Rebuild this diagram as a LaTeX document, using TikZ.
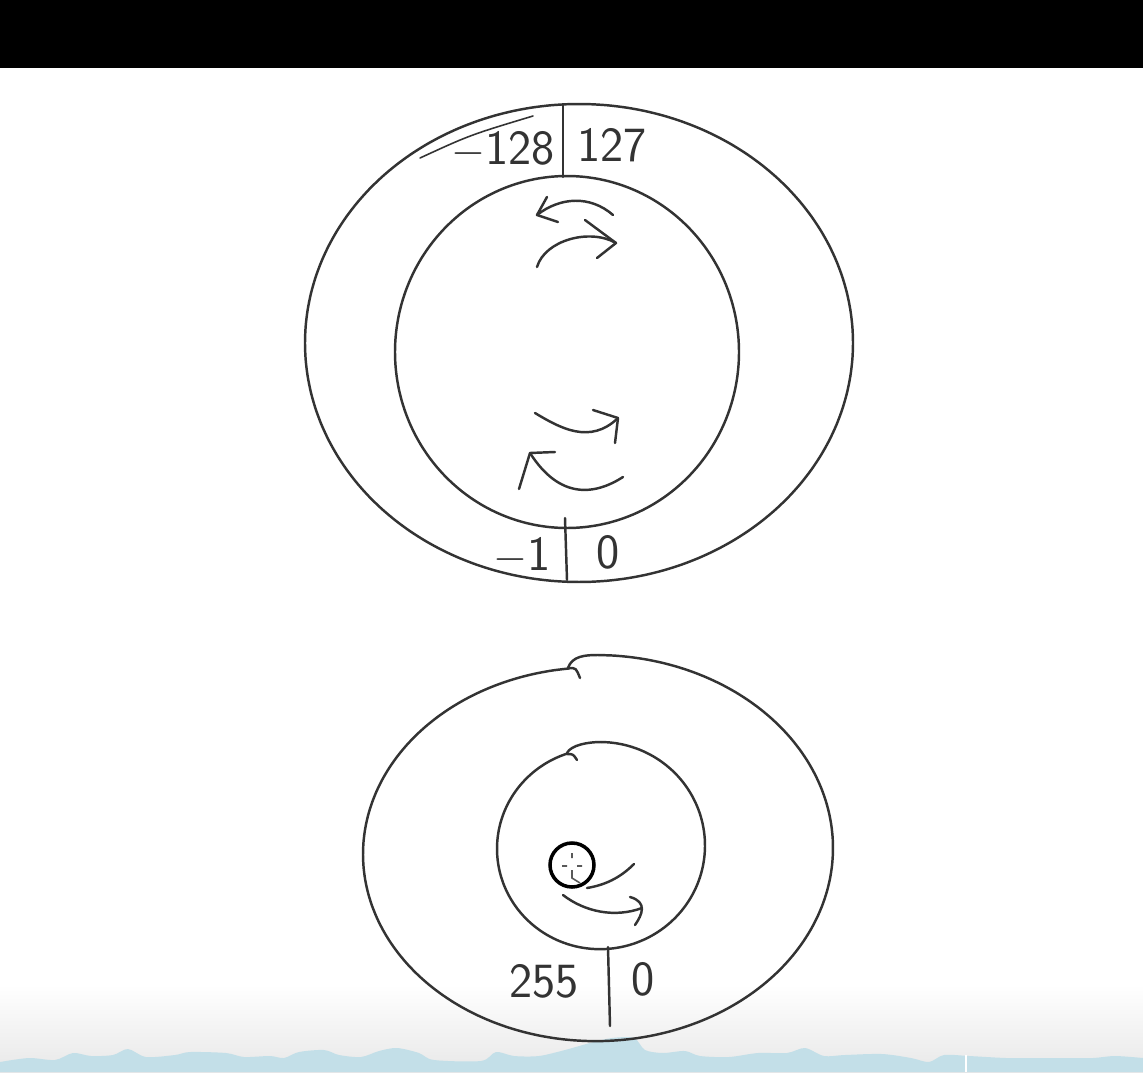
\documentclass[tikz,border=0pt]{standalone}
\usetikzlibrary{arrows}

\begin{document}
\begin{tikzpicture}[x=0.02cm,y=-0.02cm]
% ------------------------------------------------ sketch colors
\definecolor{sk_ink}{RGB}{51,51,51}      %#333333
\definecolor{sk_sea}{RGB}{195,223,232}   %#C3DFE8
\definecolor{sk_fog}{RGB}{232,232,232}   %#E8E8E8

\tikzset{ink/.style={line width=1.4pt,color=sk_ink,line cap=round,line join=round},
         digit/.style={color=sk_ink,font=\sffamily\fontsize{28}{30}\selectfont,inner sep=0pt}}

\useasboundingbox (0,0) rectangle (1143,1072);

% ------------------------------------------------ background
\fill[black] (0,0) rectangle (1143,68);
\shade[top color=white,bottom color=sk_fog] (0,985) rectangle (1143,1072);
\fill[sk_sea] plot[smooth,tension=0.5] coordinates {(0,1062) (29,1058) (55,1060) (73,1053) (91,1056)
  (113,1055) (128,1049) (146,1057) (175,1055) (190,1052) (226,1053) (244,1057) (270,1056) (284,1058)
  (299,1052) (324,1050) (339,1055) (361,1057) (379,1051) (397,1048) (419,1053) (434,1060) (481,1061)
  (496,1052) (514,1056) (539,1056) (565,1050) (590,1043) (612,1038) (634,1038) (645,1050) (663,1053)
  (685,1051) (700,1056) (729,1057) (758,1053) (787,1053) (805,1048) (824,1056) (845,1055) (882,1054)
  (911,1058) (929,1062) (944,1055) (969,1056) (1006,1058) (1035,1058) (1064,1058) (1093,1058)
  (1115,1056) (1143,1058)} -- (1143,1072) -- (0,1072) -- cycle;
\draw[white,line width=1pt] (966,1055) -- (966,1072);

% ------------------------------------------------ signed ring (top)
\draw[ink] plot[domain=0:356,samples=90,smooth cycle,variable=\t]
  ({579+274*cos(\t)},{343-239*sin(\t)});
\draw[ink,line width=0.9pt] (420,158) .. controls (470,135) .. (533,116);
\draw[ink] plot[domain=0:356,samples=90,smooth cycle,variable=\t]
  ({567+172*cos(\t)},{352-176*sin(\t)});
\draw[ink] (563,105) -- (563,177);
\draw[ink] (565,518) -- (567,580);

\node[digit] (min) at (503,150) {$-$128};
\node[digit] (max) at (612,145) {127};
\node[digit] (neg) at (522,556) {$-$1};
\node[digit] (zero) at (608,552) {0};

% ------------------------------------------------ hand arrows (top)
\draw[ink] (613,215) .. controls (590,195) and (560,197) .. (537,215);
\draw[ink] (547,197) -- (537,215) -- (558,222);
\draw[ink] (537,267) .. controls (545,240) and (590,228) .. (616,243);
\draw[ink] (585,220) -- (616,243) -- (597,258);
\draw[ink] (535,413) .. controls (560,428) and (590,445) .. (618,418);
\draw[ink] (593,410) -- (618,418) -- (615,443);
\draw[ink] (623,477) .. controls (595,495) and (560,500) .. (530,453);
\draw[ink] (519,489) -- (530,453) -- (555,452);

% ------------------------------------------------ unsigned ring (bottom)
\draw[ink] plot[domain=-263:90,samples=90,smooth,variable=\t]
  ({598+235*cos(\t)},{845-190*sin(\t)+12*(90-\t)/353});
\draw[ink] (568,668) .. controls (572,656) and (585,655) .. (598,655);
\draw[ink] (569,668) .. controls (576,668) .. (580,678);
\draw[ink] plot[domain=-251:90,samples=80,smooth,variable=\t]
  ({601+104*cos(\t)},{844-102*sin(\t)+6*(90-\t)/341});
\draw[ink] (567,753) .. controls (571,745) and (588,742) .. (601,742);
\draw[ink] (567,754) .. controls (573,754) .. (577,760);
\draw[ink] (608,947) -- (610,1026);

\node[digit] (top) at (544,981) {255};
\node[digit] (low) at (643,979) {0};

% ------------------------------------------------ hand arrows (bottom)
\draw[ink] (587,888) .. controls (605,885) and (620,878) .. (634,864);
\draw[ink] (563,895) .. controls (585,912) and (615,918) .. (642,908);
\draw[ink] (630,897) .. controls (648,902) and (642,915) .. (635,925);

% ------------------------------------------------ pointer
\draw[black,line width=2pt] (572,865) circle (22);
\draw[gray!70!black,line width=0.9pt] (562,866) -- (567,866) (577,866) -- (582,866)
  (572,853) -- (572,858) (572,870) -- (572,878) -- (580,883);
\end{tikzpicture}
\end{document}
